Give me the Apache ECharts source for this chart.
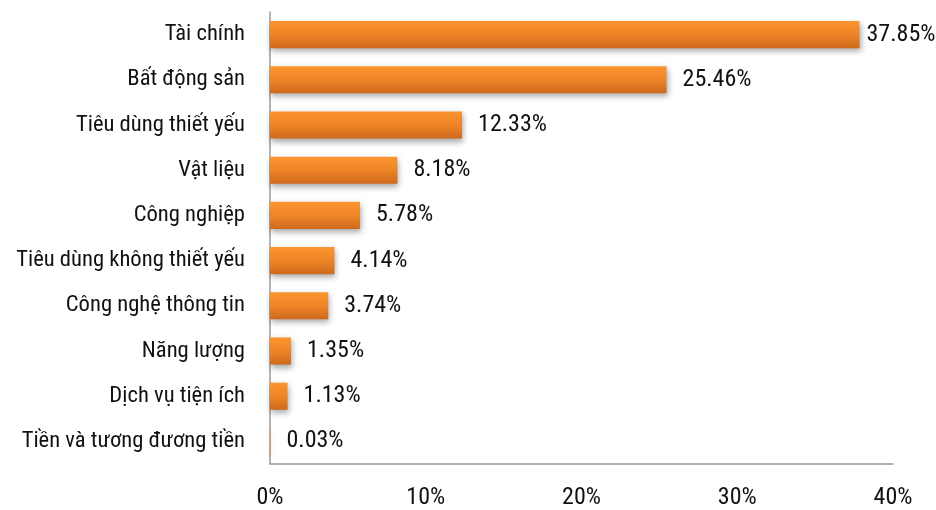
<!DOCTYPE html>
<html><head><meta charset="utf-8">
<script src="https://cdn.jsdelivr.net/npm/echarts@6/dist/echarts.min.js"></script>
<style>html,body{margin:0;padding:0;background:#fff}#c{width:936px;height:510px}</style>
</head><body><div id="c"></div>
<script>
const categories = ["Tài chính","Bất động sản","Tiêu dùng thiết yếu","Vật liệu","Công nghiệp","Tiêu dùng không thiết yếu","Công nghệ thông tin","Năng lượng","Dịch vụ tiện ích","Tiền và tương đương tiền"];
const values = [37.85,25.46,12.33,8.18,5.78,4.14,3.74,1.35,1.13,0.03];
const xTicks = {min:0,max:40,interval:10};
const FONT = '"Liberation Sans Narrow","Arial Narrow","Roboto Condensed",sans-serif';
const chart = echarts.init(document.getElementById('c'));
chart.setOption({
  animation:false,
  grid:{left:270,right:43,top:12,bottom:45,containLabel:false},
  xAxis:{type:'value',min:xTicks.min,max:xTicks.max,interval:xTicks.interval,
    axisLine:{show:true,lineStyle:{color:'#9a9a9a',width:1.5}},
    axisTick:{show:false},splitLine:{show:false},
    axisLabel:{formatter:'{value}%',color:'#111',fontSize:24,fontFamily:FONT,margin:22}},
  yAxis:{type:'category',data:categories,inverse:true,
    axisLine:{show:true,lineStyle:{color:'#9a9a9a',width:1.5}},
    axisTick:{show:false},
    axisLabel:{color:'#111',fontSize:22.6,fontFamily:FONT,margin:25}},
  series:[{type:'bar',barWidth:'60%',
    data:values.map((v,i)=>({value:v,label:{distance:i===0?7:16}})),
    itemStyle:{color:new echarts.graphic.LinearGradient(0,0,0,1,[{offset:0,color:'#FB952F'},{offset:0.5,color:'#EE8427'},{offset:1,color:'#CE6A1C'}]),
      shadowColor:'rgba(0,0,0,0.35)',shadowBlur:6,shadowOffsetY:3,shadowOffsetX:1},
    label:{show:true,position:'right',formatter:p=>p.value.toFixed(2)+'%',color:'#111',fontSize:24,fontFamily:FONT}
  }]
});
</script></body></html>
